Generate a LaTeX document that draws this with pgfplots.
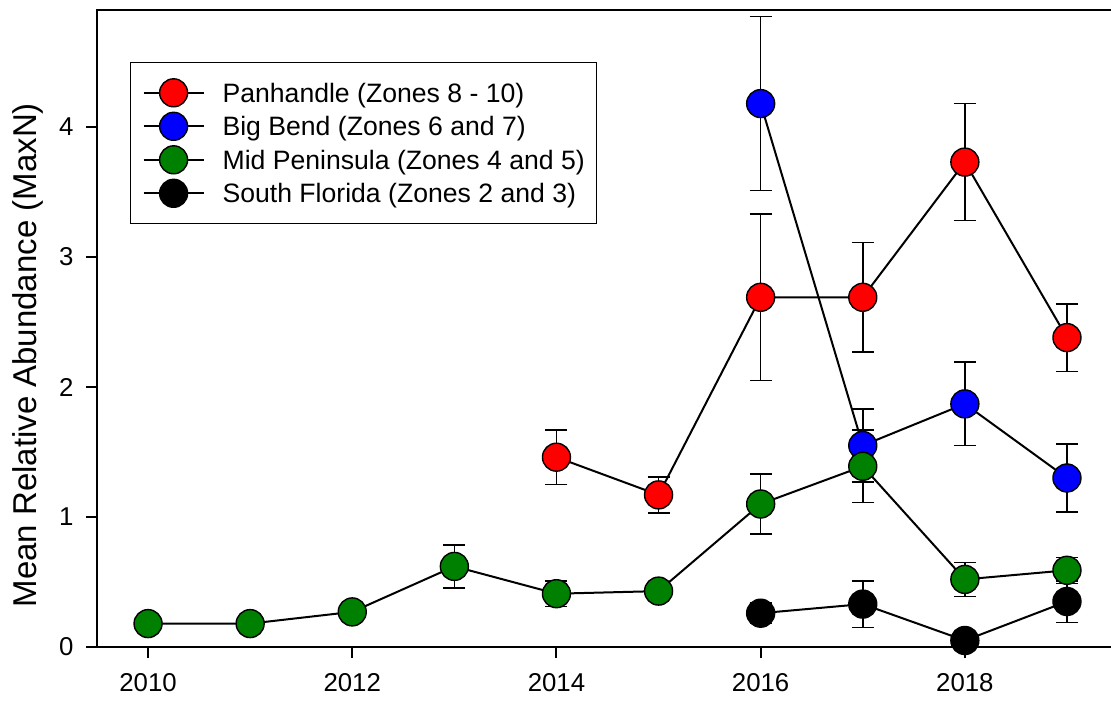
\documentclass[border=0pt]{standalone}
\usepackage{pgfplots}
\pgfplotsset{compat=1.18}
\usepackage{fontspec}
\setmainfont{Liberation Sans}
\definecolor{pred}{RGB}{255,0,0}
\definecolor{pblue}{RGB}{0,0,255}
\definecolor{pgreen}{RGB}{0,128,0}
\pgfplotsset{
  ser/.style={black, line width=1pt, mark=*, mark size=7pt,
    mark options={fill=#1, draw=black, line width=0.7pt},
    error bars/.cd, y dir=both, y explicit,
    error bar style={black, line width=0.8pt},
    error mark options={rotate=90, mark size=5.5pt, black, line width=0.8pt}},
}
\begin{document}
\begin{tikzpicture}
\begin{axis}[
  at={(0,0)}, anchor=south west, scale only axis,
  width=510.5pt, height=318.5pt,
  xmin=2009.5, xmax=2019.5, ymin=0, ymax=4.9,
  xtick={2010,2012,2014,2016,2018}, ytick={0,1,2,3,4},
  xticklabels={2010,2012,2014,2016,2018},
  /pgf/number format/assume math mode=true,
  ticklabel style={font=\fontsize{12.9}{15}\selectfont},
  x tick label style={yshift=-4.3pt},
  y tick label style={xshift=-2.8pt},
  tick align=outside, major tick length=5.5pt,
  tick style={black, line width=1pt},
  xtick pos=bottom, ytick pos=left,
  axis line style={black, line width=1pt},
  ylabel={Mean Relative Abundance (MaxN)},
  ylabel style={font=\fontsize{16.5}{19}\selectfont, at={(axis description cs:0,0.458)}, anchor=center, yshift=34.6pt},
  clip=false,
  legend style={at={(0,1)}, anchor=north west, xshift=16.5pt, yshift=-26pt,
    draw=black, line width=0.6pt, font=\fontsize{13.3}{16}\selectfont,
    inner xsep=6pt, inner ysep=8.1pt, row sep=2.75pt, column sep=9pt,
    nodes={inner sep=0pt, text height=11pt, text depth=1.5pt}},
  legend cell align=left,
  legend image code/.code={\draw[mark repeat=2, mark phase=2, #1] plot coordinates {(0pt,0pt) (15pt,0pt) (30pt,0pt)};},
]
\addplot[ser=pred] coordinates {
  (2014,1.46) +- (0,0.21)
  (2015,1.17) +- (0,0.14)
  (2016,2.69) +- (0,0.64)
  (2017,2.69) +- (0,0.42)
  (2018,3.73) +- (0,0.45)
  (2019,2.38) +- (0,0.26)
};
\addlegendentry{Panhandle (Zones 8 - 10)}
\addplot[ser=pblue] coordinates {
  (2016,4.18) +- (0,0.67)
  (2017,1.55) +- (0,0.28)
  (2018,1.87) +- (0,0.32)
  (2019,1.30) +- (0,0.26)
};
\addlegendentry{Big Bend (Zones 6 and 7)}
\addplot[ser=pgreen] coordinates {
  (2010,0.18) +- (0,0.02)
  (2011,0.18) +- (0,0.02)
  (2012,0.27) +- (0,0.03)
  (2013,0.62) +- (0,0.165)
  (2014,0.41) +- (0,0.10)
  (2015,0.43) +- (0,0.05)
  (2016,1.10) +- (0,0.23)
  (2017,1.39) +- (0,0.28)
  (2018,0.52) +- (0,0.13)
  (2019,0.59) +- (0,0.10)
};
\addlegendentry{Mid Peninsula (Zones 4 and 5)}
\addplot[ser=black] coordinates {
  (2016,0.26) +- (0,0.08)
  (2017,0.33) +- (0,0.18)
  (2018,0.05) +- (0,0.04)
  (2019,0.35) +- (0,0.16)
};
\addlegendentry{South Florida (Zones 2 and 3)}
\end{axis}
\pgfresetboundingbox
\path (-48.5pt,-26.5pt) rectangle (507pt,323.5pt);
\end{tikzpicture}
\end{document}
